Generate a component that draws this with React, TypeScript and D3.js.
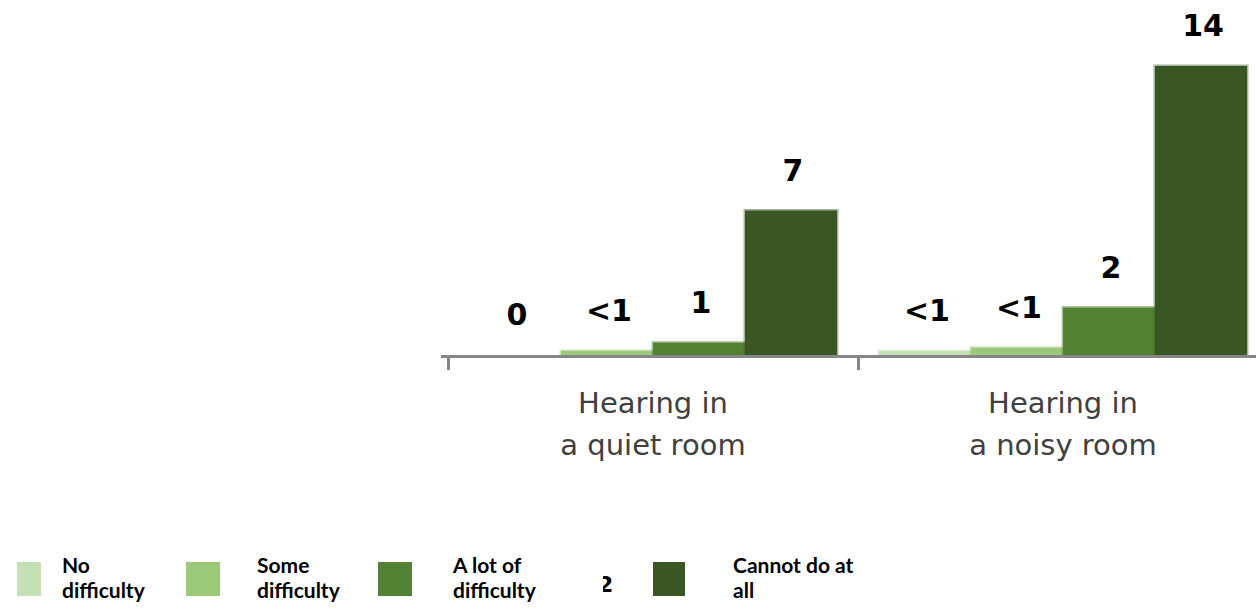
import React from "react";
import * as d3 from "d3";

const categories = ["Hearing in a quiet room", "Hearing in a noisy room"];
const categoryLines = [["Hearing in", "a quiet room"], ["Hearing in", "a noisy room"]];
const seriesNames = ["No difficulty", "Some difficulty", "A lot of difficulty", "Cannot do at all"];
const legendLines = [["No", "difficulty"], ["Some", "difficulty"], ["A lot of", "difficulty"], ["Cannot do at", "all"]];
const quietValues = [0, 0.2, 0.6, 7.0];
const noisyValues = [0.2, 0.35, 2.3, 14.0];
const quietLabels = ["0", "<1", "1", "7"];
const noisyLabels = ["<1", "<1", "2", "14"];

const colors = ["#c5e0b4", "#9bc879", "#548235", "#3a5625"];

const values = [quietValues, noisyValues];
const labels = [quietLabels, noisyLabels];

// legend layout (swatch x, swatch width, text x)
const legendLayout = [
  { sx: 17, sw: 24, tx: 62 },
  { sx: 186, sw: 34, tx: 257 },
  { sx: 378, sw: 34, tx: 453 },
  { sx: 653, sw: 32, tx: 733 },
];

export default function App() {
  const W = 1256;
  const H = 610;
  const baseY = 355;

  const x0 = d3.scaleBand<string>().domain(categories).range([448, 1268]).paddingInner(0).paddingOuter(0);
  const x1 = d3
    .scaleBand<string>()
    .domain(seriesNames)
    .range([0, x0.bandwidth()])
    .paddingInner(0)
    .paddingOuter(21 / 92);
  const y = d3.scaleLinear().domain([0, 14]).range([baseY, 66]);

  return (
    <svg
      width={W}
      height={H}
      style={{ position: "absolute", left: 0, top: 0, background: "#fff" }}
    >
      <defs>
        <clipPath id="artifact">
          <rect x={603} y={560} width={10} height={40} />
        </clipPath>
      </defs>
      {categories.map((c, ci) => (
        <g key={c} transform={`translate(${x0(c)},0)`}>
          {seriesNames.map((s, si) => {
            const v = values[ci][si];
            const top = y(v);
            const h = baseY - top;
            return (
              <g key={s}>
                {h > 0 && (
                  <rect
                    x={x1(s)}
                    y={top}
                    width={x1.bandwidth()}
                    height={h}
                    fill={colors[si]}
                    stroke={colors[si]}
                    strokeOpacity={0.45}
                    strokeWidth={3}
                  />
                )}
                <text
                  x={(x1(s) as number) + x1.bandwidth() / 2 + 2}
                  y={top - 30}
                  textAnchor="middle"
                  fontFamily="DejaVu Sans"
                  fontWeight="bold"
                  fontSize={30}
                  fill="#000"
                >
                  {labels[ci][si]}
                </text>
              </g>
            );
          })}
        </g>
      ))}
      {/* axis */}
      <line x1={441} x2={W} y1={356.5} y2={356.5} stroke="#868686" strokeWidth={3} />
      {categories.map((c) => (
        <line
          key={c}
          x1={(x0(c) as number) + 0.5}
          x2={(x0(c) as number) + 0.5}
          y1={356}
          y2={370}
          stroke="#868686"
          strokeWidth={3}
        />
      ))}
      {categories.map((c, ci) => {
        const cx = (x0(c) as number) + x0.bandwidth() / 2;
        return (
          <text
            key={c}
            textAnchor="middle"
            fontFamily="DejaVu Sans"
            fontSize={29}
            fill="#404040"
          >
            <tspan x={cx} y={413}>
              {categoryLines[ci][0]}
            </tspan>
            <tspan x={cx} y={455}>
              {categoryLines[ci][1]}
            </tspan>
          </text>
        );
      })}
      {/* legend */}
      {seriesNames.map((s, si) => {
        const L = legendLayout[si];
        return (
          <g key={s}>
            <rect x={L.sx} y={562} width={L.sw} height={34} fill={colors[si]} />
            <text fontFamily="Lato" fontWeight="bold" fontSize={21} fill="#000">
              <tspan x={L.tx} y={573}>
                {legendLines[si][0]}
              </tspan>
              <tspan x={L.tx} y={598}>
                {legendLines[si][1]}
              </tspan>
            </text>
          </g>
        );
      })}
      <text
        x={598}
        y={592}
        fontFamily="DejaVu Sans"
        fontWeight="bold"
        fontSize={22}
        fill="#000"
        clipPath="url(#artifact)"
      >
        2
      </text>
    </svg>
  );
}
